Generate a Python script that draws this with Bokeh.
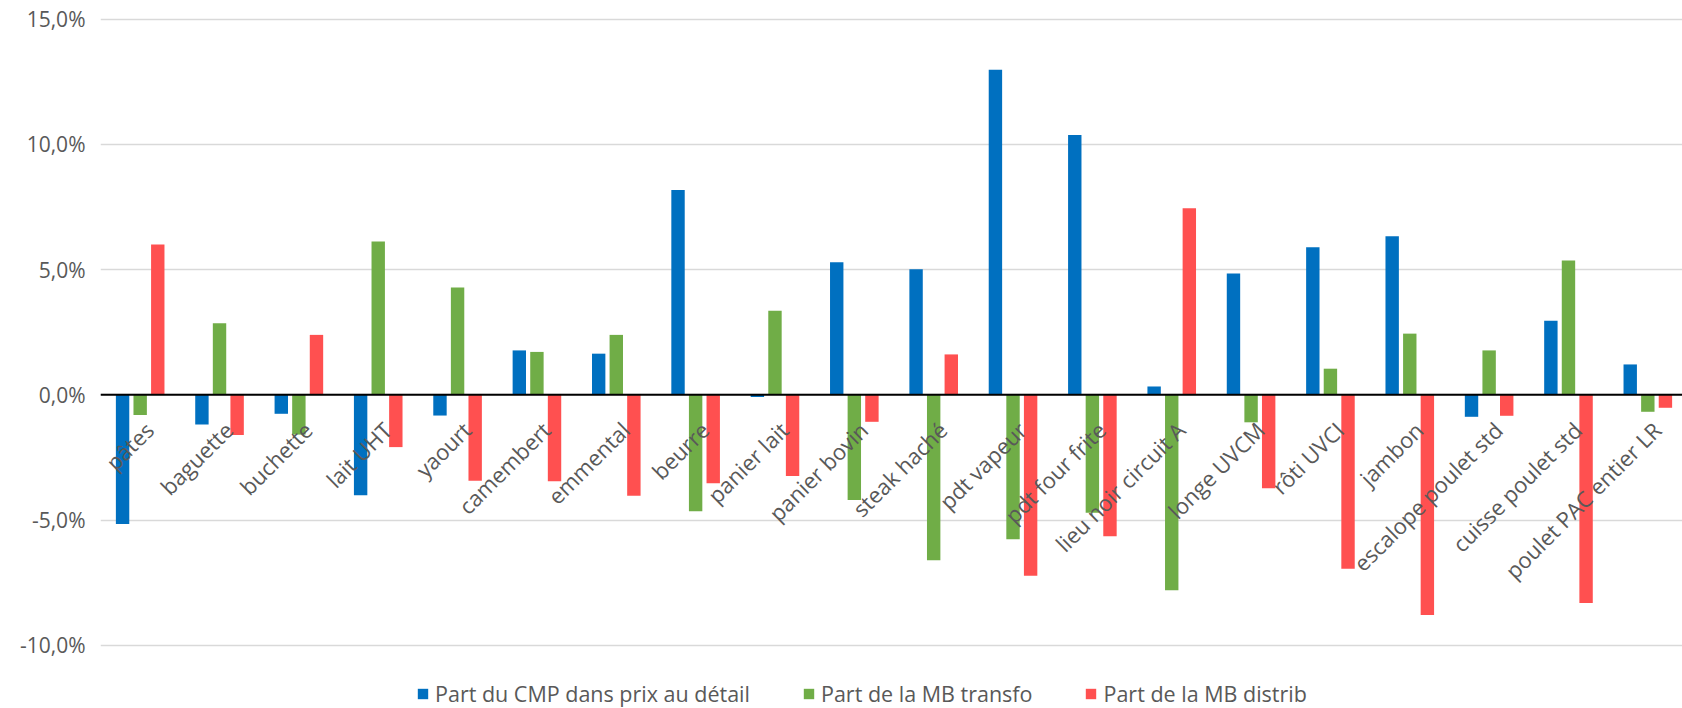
import math
from bokeh.plotting import figure
from bokeh.models import (ColumnDataSource, Range1d, FixedTicker, Span, Legend,
                          LegendItem)
from bokeh.core.properties import value
from bokeh.embed import file_html
from bokeh.resources import INLINE

# ---- data (% of retail price) ----
categories = ["pâtes", "baguette", "buchette", "lait UHT", "yaourt", "camembert",
              "emmental", "beurre", "panier lait", "panier bovin", "steak haché",
              "pdt vapeur", "pdt four frite", "lieu noir circuit A", "longe UVCM",
              "rôti UVCI", "jambon", "escalope poulet std", "cuisse poulet std",
              "poulet PAC entier LR"]

part_cmp = [-5.16, -1.19, -0.76, -4.01, -0.83, 1.77, 1.64, 8.17, -0.09, 5.29,
            5.01, 12.97, 10.37, 0.33, 4.84, 5.89, 6.33, -0.88, 2.95, 1.21]

part_mb_transfo = [-0.81, 2.85, -1.59, 6.12, 4.28, 1.71, 2.39, -4.65, 3.35, -4.20,
                   -6.61, -5.77, -4.71, -7.80, -1.10, 1.04, 2.44, 1.77, 5.36, -0.68]

part_mb_distrib = [6.00, -1.61, 2.39, -2.09, -3.43, -3.45, -4.03, -3.53, -3.24, -1.08,
                   1.61, -7.23, -5.65, 7.45, -3.73, -6.95, -8.79, -0.84, -8.31, -0.52]

series_names = ["Part du CMP dans prix au détail", "Part de la MB transfo",
                "Part de la MB distrib"]
series_colors = ["#0070C0", "#70AD47", "#FF5050"]

y_ticks = [-10, -5, 0, 5, 10, 15]
y_tick_labels = ["-10,0%", "-5,0%", "0,0%", "5,0%", "10,0%", "15,0%"]

# ---- layout constants ----
W, H = 1682, 708
LEFT = 100
CAT_PX = 79.35          # width of one category slot in pixels
PX_PER_UNIT = 25.05     # pixels per 1 %
TOP = 10

x_end = (W - LEFT) / CAT_PX
y_end = 15 + (18.5 - TOP) / PX_PER_UNIT
y_start = y_end - (H - TOP) / PX_PER_UNIT

FONT = "Open Sans"
TEXT_COLOR = "#595959"

p = figure(width=W, height=H, output_backend="svg", toolbar_location=None,
           x_range=Range1d(0, x_end), y_range=Range1d(y_start, y_end),
           x_axis_location=None, y_axis_location="left",
           min_border_left=LEFT, min_border_right=0, min_border_top=TOP,
           min_border_bottom=0)
p.outline_line_color = None
p.background_fill_color = "white"
p.border_fill_color = "white"

# grid
p.xgrid.visible = False
p.yaxis.ticker = FixedTicker(ticks=y_ticks)
p.ygrid.ticker = FixedTicker(ticks=y_ticks)
p.ygrid.grid_line_color = "#d9d9d9"
p.ygrid.grid_line_width = 1.5

# y axis
p.yaxis.major_label_overrides = {t: lab for t, lab in zip(y_ticks, y_tick_labels)}
p.yaxis.axis_line_color = None
p.yaxis.major_tick_line_color = None
p.yaxis.minor_tick_line_color = None
p.yaxis.major_label_standoff = 9
p.yaxis.major_label_text_font = FONT
p.yaxis.major_label_text_font_size = "21px"
p.yaxis.major_label_text_color = TEXT_COLOR

# bars
bar_w = 13.4 / CAT_PX
step = 17.6 / CAT_PX
centers = [i + 0.5 for i in range(len(categories))]
renderers = []
for k, (vals, col) in enumerate(zip([part_cmp, part_mb_transfo, part_mb_distrib],
                                    series_colors)):
    src = ColumnDataSource(dict(x=[c + (k - 1) * step for c in centers], top=vals))
    r = p.vbar(x="x", top="top", bottom=0, width=bar_w, source=src,
               fill_color=col, line_color=None)
    renderers.append(r)

# zero line
p.add_layout(Span(location=0, dimension="width", line_color="black", line_width=2))

# category labels along the zero line
lab_src = ColumnDataSource(dict(x=centers, y=[0] * len(categories), text=categories))
p.text(x="x", y="y", text="text", source=lab_src, angle=math.pi / 4,
       text_align="right", text_baseline="middle", x_offset=9, y_offset=31,
       text_font=value(FONT), text_font_size="22px", text_color=TEXT_COLOR)

# legend
legend = Legend(items=[LegendItem(label=n, renderers=[r])
                       for n, r in zip(series_names, renderers)],
                orientation="horizontal", location=(316, 0),
                glyph_width=13, glyph_height=13, label_standoff=6, spacing=52,
                padding=0, margin=0, border_line_color=None,
                background_fill_alpha=0,
                label_text_font=FONT, label_text_font_size="21.5px",
                label_text_color=TEXT_COLOR)
p.add_layout(legend)

open("out.html", "w").write(file_html(p, INLINE))
